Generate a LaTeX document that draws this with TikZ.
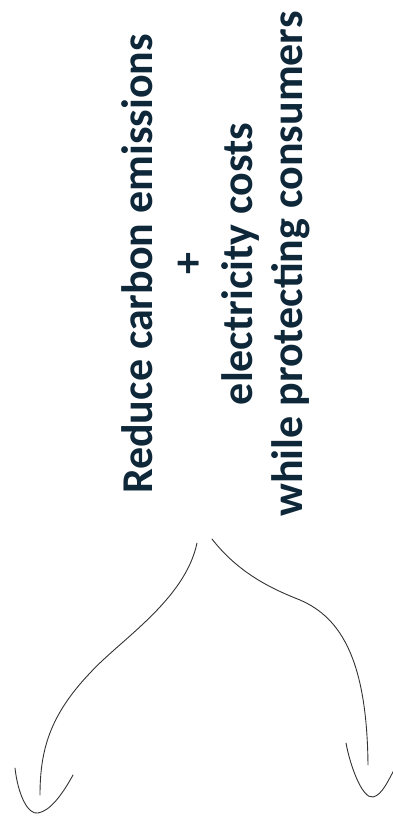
\documentclass[tikz,border=0pt]{standalone}
\usepackage{fontspec}
\setmainfont{Carlito}
\usepackage{tikz}
\usepackage{xcolor}
\usetikzlibrary{positioning, calc}

\definecolor{goalnavy}{RGB}{14,40,58}
\definecolor{penline}{RGB}{50,50,50}

\tikzset{
    goaltext/.style={text=goalnavy, font=\bfseries\fontsize{44}{50}\selectfont,
                     align=center, rotate=90, inner sep=0pt},
    sketch/.style={draw=penline, line width=0.9pt, line cap=round}
}

\begin{document}
\begin{tikzpicture}[x=1pt, y=-1pt]
    \useasboundingbox (0,0) rectangle (393,829);
    \node[goaltext] (goal) at (216,264) {
        Reduce carbon emissions\\
        +\\
        electricity costs\\
        while protecting consumers
    };
    % start and end of the two hand drawn arrows
    \coordinate (lstart) at (197,543);
    \coordinate (rstart) at (212,539);
    \coordinate (ltip) at (40,795);
    \coordinate (rtip) at (368,765);
    \draw[sketch] (lstart) .. controls (185,600) and (120,640) .. (90,673)
        .. controls (50,715) and (40,750) .. (ltip);
    \draw[sketch] (rstart) .. controls (240,575) and (275,590) .. (300,600)
        .. controls (342,618) and (367,662) .. (rtip);
    % open heads under the tips
    \draw[sketch] ($(ltip)+(-25,-27)$) .. controls ($(ltip)+(-22,0)$) and ($(ltip)+(-12,20)$) .. ($(ltip)+(-2,18)$)
        .. controls ($(ltip)+(10,16)$) and ($(ltip)+(22,0)$) .. ($(ltip)+(33,-20)$);
    \draw[sketch] ($(rtip)+(-22,-22)$) .. controls ($(rtip)+(-18,0)$) and ($(rtip)+(-6,34)$) .. ($(rtip)+(5,32)$)
        .. controls ($(rtip)+(14,30)$) and ($(rtip)+(20,16)$) .. ($(rtip)+(26,5)$);
\end{tikzpicture}
\end{document}
